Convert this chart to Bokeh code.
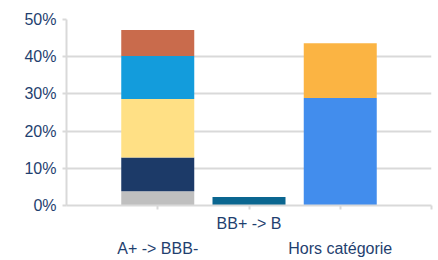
from bokeh.plotting import figure
from bokeh.models import FixedTicker, PrintfTickFormatter, Range1d, LinearAxis
from bokeh.embed import file_html
from bokeh.resources import INLINE

categories = ["A+ -> BBB-", "BB+ -> B", "Hors catégorie"]
cat_x = [1, 2, 3]
# stacked segments (percent), bottom to top
seg_grey = [3.8, 0, 0]
seg_navy = [9.1, 0, 0]
seg_yellow = [15.7, 0, 0]
seg_blue = [11.6, 0, 0]
seg_rust = [7.0, 0, 0]
seg_teal = [0, 2.3, 0]
seg_brightblue = [0, 0, 28.9]
seg_orange = [0, 0, 14.7]
y_ticks = [0, 10, 20, 30, 40, 50]

series = [seg_grey, seg_navy, seg_yellow, seg_blue, seg_rust, seg_teal, seg_brightblue, seg_orange]
colors = ["#bfbfbf", "#1c3a68", "#ffe085", "#139cdc", "#c96b4c", "#0a6690", "#428ded", "#fbb443"]
names = ["s%d" % i for i in range(len(series))]

data = {"x": cat_x}
for n, s in zip(names, series):
    data[n] = s

TXT = "#1f3f6f"
GRID = "#d9d9d9"
FONT = "Liberation Sans"

p = figure(width=438, height=260, output_backend="svg", toolbar_location=None,
           x_range=Range1d(0, 4), y_range=Range1d(0, 50),
           min_border_left=66, min_border_right=7, min_border_top=19, min_border_bottom=55)
p.outline_line_color = None
p.background_fill_color = "white"
p.border_fill_color = "white"

p.vbar_stack(names, x="x", width=0.8, color=colors, line_color=None, source=data)

p.xgrid.grid_line_color = None
p.ygrid.ticker = FixedTicker(ticks=y_ticks)
p.ygrid.grid_line_color = GRID
p.ygrid.grid_line_width = 2

p.yaxis.ticker = FixedTicker(ticks=y_ticks)
p.yaxis.formatter = PrintfTickFormatter(format="%d%%")
p.yaxis.axis_line_color = GRID
p.yaxis.axis_line_width = 2
p.yaxis.major_tick_line_color = GRID
p.yaxis.major_tick_line_width = 2
p.yaxis.major_tick_in = 0
p.yaxis.major_tick_out = 4
p.yaxis.minor_tick_line_color = None
p.yaxis.major_label_standoff = 6
p.yaxis.major_label_text_font = FONT
p.yaxis.major_label_text_font_size = "16px"
p.yaxis.major_label_text_color = TXT

p.xaxis.ticker = FixedTicker(ticks=[1, 2, 3, 4])
p.xaxis.major_label_overrides = {1: "", 2: categories[1], 3: "", 4: ""}
p.xaxis.axis_line_color = GRID
p.xaxis.axis_line_width = 2
p.xaxis.major_tick_line_color = GRID
p.xaxis.major_tick_line_width = 2
p.xaxis.major_tick_in = 0
p.xaxis.major_tick_out = 4
p.xaxis.minor_tick_line_color = None
p.xaxis.major_label_standoff = 5
p.xaxis.major_label_text_font = FONT
p.xaxis.major_label_text_font_size = "16px"
p.xaxis.major_label_text_color = TXT

ax2 = LinearAxis(ticker=FixedTicker(ticks=[1, 3]),
                 major_label_overrides={1: categories[0], 3: categories[2]})
ax2.axis_line_color = None
ax2.major_tick_line_color = None
ax2.minor_tick_line_color = None
ax2.major_tick_in = 0
ax2.major_tick_out = 0
ax2.major_label_standoff = 5
ax2.major_label_text_font = FONT
ax2.major_label_text_font_size = "16px"
ax2.major_label_text_color = TXT
p.add_layout(ax2, "below")

open("out.html", "w").write(file_html(p, INLINE))
